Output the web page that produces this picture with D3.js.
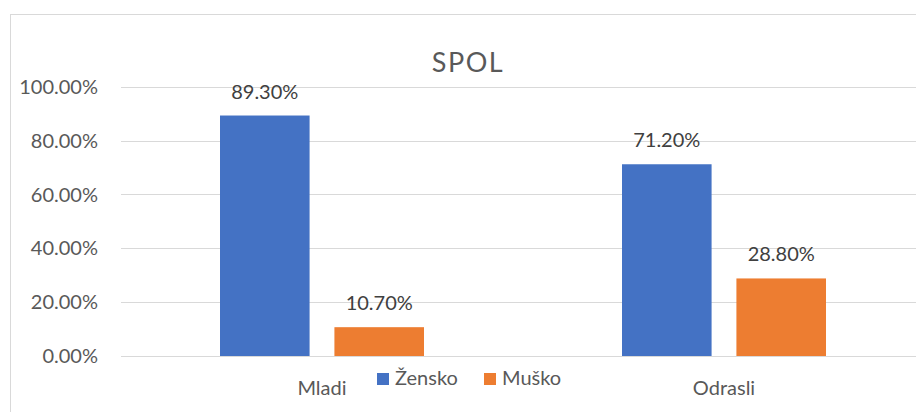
<!DOCTYPE html>
<html>
<head>
<meta charset="utf-8">
<script src="https://cdn.jsdelivr.net/npm/d3@7"></script>
<style>
  html, body { margin: 0; padding: 0; background: #fff; }
  svg { display: block; font-family: Lato, "Open Sans", sans-serif; }
</style>
</head>
<body>
<svg id="chart" width="916" height="412"></svg>
<script>
// chart data
const categories = ["Mladi", "Odrasli"];
const seriesNames = ["Žensko", "Muško"];
const zenskoValues = [0.893, 0.712];
const muskoValues = [0.107, 0.288];
const yTicks = [0, 0.2, 0.4, 0.6, 0.8, 1.0];

const colors = { "Žensko": "#4472C4", "Muško": "#ED7D31" };
const values = { "Žensko": zenskoValues, "Muško": muskoValues };

const svg = d3.select("#chart");
const width = 916, height = 412;

// chart frame (right/bottom sides fall outside the picture)
svg.append("rect")
  .attr("x", 10.5).attr("y", 14.5)
  .attr("width", 1000).attr("height", 1000)
  .attr("fill", "none")
  .attr("stroke", "#d9d9d9")
  .attr("stroke-width", 1);

const plotLeft = 121, plotRight = 925;
const plotTop = 86.7, plotBottom = 356;

const x = d3.scaleBand().domain(categories).range([plotLeft, plotRight]);
const groupWidth = 204;
const x1 = d3.scaleBand()
  .domain(seriesNames)
  .range([(x.bandwidth() - groupWidth) / 2, (x.bandwidth() + groupWidth) / 2])
  .paddingInner(0.217);

const y = d3.scaleLinear().domain([0, 1]).range([plotBottom, plotTop]);
const pct = d3.format(".2%");

// gridlines
svg.append("g")
  .selectAll("line")
  .data(yTicks)
  .join("line")
  .attr("x1", plotLeft).attr("x2", width)
  .attr("y1", d => Math.round(y(d)) + 0.5)
  .attr("y2", d => Math.round(y(d)) + 0.5)
  .attr("stroke", "#d9d9d9")
  .attr("stroke-width", 1);

// y labels
svg.append("g")
  .selectAll("text")
  .data(yTicks)
  .join("text")
  .attr("x", 98)
  .attr("y", d => y(d))
  .attr("dy", "0.36em")
  .attr("text-anchor", "end")
  .attr("font-size", 20)
  .attr("fill", "#595959")
  .text(d => pct(d));

// bars
const groups = svg.append("g")
  .selectAll("g")
  .data(categories)
  .join("g")
  .attr("transform", d => `translate(${x(d)},0)`);

const cells = groups.selectAll("g")
  .data((c, i) => seriesNames.map(s => ({ series: s, value: values[s][i] })))
  .join("g");

cells.append("rect")
  .attr("x", d => x1(d.series))
  .attr("width", x1.bandwidth())
  .attr("y", d => y(d.value))
  .attr("height", d => y(0) - y(d.value))
  .attr("fill", d => colors[d.series]);

cells.append("text")
  .attr("x", d => x1(d.series) + x1.bandwidth() / 2)
  .attr("y", d => y(d.value) - 17)
  .attr("text-anchor", "middle")
  .attr("font-size", 20)
  .attr("fill", "#404040")
  .text(d => pct(d.value));

// category labels
svg.append("g")
  .selectAll("text")
  .data(categories)
  .join("text")
  .attr("x", d => x(d) + x.bandwidth() / 2)
  .attr("y", 395)
  .attr("text-anchor", "middle")
  .attr("font-size", 20)
  .attr("fill", "#595959")
  .text(d => d);

// title
svg.append("text")
  .attr("x", 468)
  .attr("y", 72)
  .attr("text-anchor", "middle")
  .attr("font-size", 27)
  .attr("letter-spacing", 1.5)
  .attr("fill", "#595959")
  .text("SPOL");

// legend
const legendX = [377, 484];
const legend = svg.append("g")
  .selectAll("g")
  .data(seriesNames)
  .join("g")
  .attr("transform", (d, i) => `translate(${legendX[i]},373)`);
legend.append("rect")
  .attr("width", 12).attr("height", 12)
  .attr("fill", d => colors[d]);
legend.append("text")
  .attr("x", 18).attr("y", 12)
  .attr("font-size", 20)
  .attr("fill", "#595959")
  .text(d => d);
</script>
</body>
</html>
